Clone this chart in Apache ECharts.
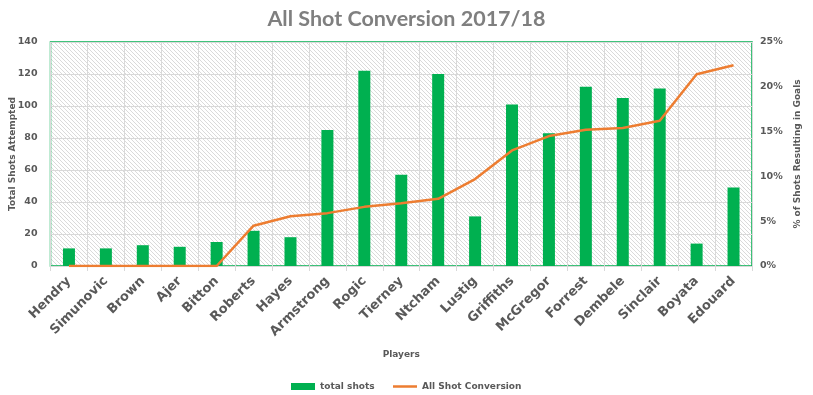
<!DOCTYPE html>
<html>
<head>
<meta charset="utf-8">
<script src="https://cdn.jsdelivr.net/npm/echarts@6/dist/echarts.min.js"></script>
<style>html,body{margin:0;padding:0;background:#fff}#c{width:813px;height:395px}</style>
</head>
<body>
<div id="c"></div>
<script>
const players = ['Hendry','Simunovic','Brown','Ajer','Bitton','Roberts','Hayes','Armstrong','Rogic','Tierney','Ntcham','Lustig','Griffiths','McGregor','Forrest','Dembele','Sinclair','Boyata','Edouard'];
const totalShots = [11,11,13,12,15,22,18,85,122,57,120,31,101,83,112,105,111,14,49];
const conversion = [0,0,0,0,0,0.045,0.0556,0.059,0.066,0.070,0.075,0.097,0.129,0.145,0.152,0.154,0.162,0.214,0.224];
const leftTicks = [0,140,20];
const rightTicks = [0,0.25,0.05];

// hatch pattern
const pc = document.createElement('canvas');
pc.width = 4; pc.height = 4;
const pctx = pc.getContext('2d');
pctx.fillStyle = '#ffffff'; pctx.fillRect(0,0,4,4);
pctx.fillStyle = '#dadada';
for (let i=0;i<4;i++) pctx.fillRect(i,i,1,1);

const txt = '#595959';
const font = 'DejaVu Sans';
const chart = echarts.init(document.getElementById('c'));
chart.setOption({
  animation:false,
  title:{text:'All Shot Conversion 2017/18',left:'center',top:3,
    textStyle:{fontFamily:'Lato',fontWeight:'bold',fontSize:21.5,color:'#7f7f7f'}},
  grid:{left:50.5,right:61,top:42,bottom:129,show:true,borderColor:'#00B050',borderWidth:1.5,
    containLabel:false,outerBoundsMode:'none',
    backgroundColor:{image:pc,repeat:'repeat'}},
  legend:[
    {top:377,left:286,itemWidth:24,itemHeight:7,
     textStyle:{fontFamily:font,fontWeight:'bold',fontSize:9,color:txt},
     data:[{name:'total shots',icon:'rect'}]},
    {top:377,left:388,itemWidth:24,itemHeight:2.5,
     textStyle:{fontFamily:font,fontWeight:'bold',fontSize:9,color:txt},
     data:[{name:'All Shot Conversion',icon:'rect'}]}],
  xAxis:{type:'category',data:players,
    name:'Players',nameLocation:'middle',nameGap:84,nameMoveOverlap:false,
    nameTextStyle:{fontFamily:font,fontWeight:'bold',fontSize:9,color:txt},
    axisLine:{lineStyle:{color:'#d9d9d9'}},
    axisTick:{show:true,length:5,lineStyle:{color:'#d9d9d9'}},
    splitLine:{show:true,lineStyle:{color:'#d9d9d9',width:1}},
    axisLabel:{rotate:45,margin:13,fontFamily:font,fontWeight:'bold',fontSize:13,color:txt,interval:0}},
  yAxis:[{type:'value',min:leftTicks[0],max:leftTicks[1],interval:leftTicks[2],
    name:'Total Shots Attempted',nameLocation:'middle',nameGap:33,nameRotate:90,nameMoveOverlap:false,
    nameTextStyle:{fontFamily:font,fontWeight:'bold',fontSize:9,color:txt},
    axisLine:{show:false},axisTick:{show:false},
    splitLine:{lineStyle:{color:'#d9d9d9',width:1}},
    axisLabel:{margin:13,fontFamily:font,fontWeight:'bold',fontSize:9.5,color:txt}},
   {type:'value',min:rightTicks[0],max:rightTicks[1],interval:rightTicks[2],position:'right',
    name:'% of Shots Resulting in Goals',nameLocation:'middle',nameGap:41,nameRotate:90,nameMoveOverlap:false,
    nameTextStyle:{fontFamily:font,fontWeight:'bold',fontSize:9,color:txt},
    axisLine:{show:false},axisTick:{show:false},splitLine:{show:false},
    axisLabel:{margin:8,fontFamily:font,fontWeight:'bold',fontSize:9.5,color:txt,
      formatter:v=>Math.round(v*100)+'%'}}],
  series:[
    {name:'total shots',type:'bar',data:totalShots,barWidth:12,itemStyle:{color:'#00B050'}},
    {name:'All Shot Conversion',type:'line',yAxisIndex:1,data:conversion,symbol:'none',
      lineStyle:{color:'#ED7D31',width:2.5},itemStyle:{color:'#ED7D31'}}
  ]
});
</script>
</body>
</html>
